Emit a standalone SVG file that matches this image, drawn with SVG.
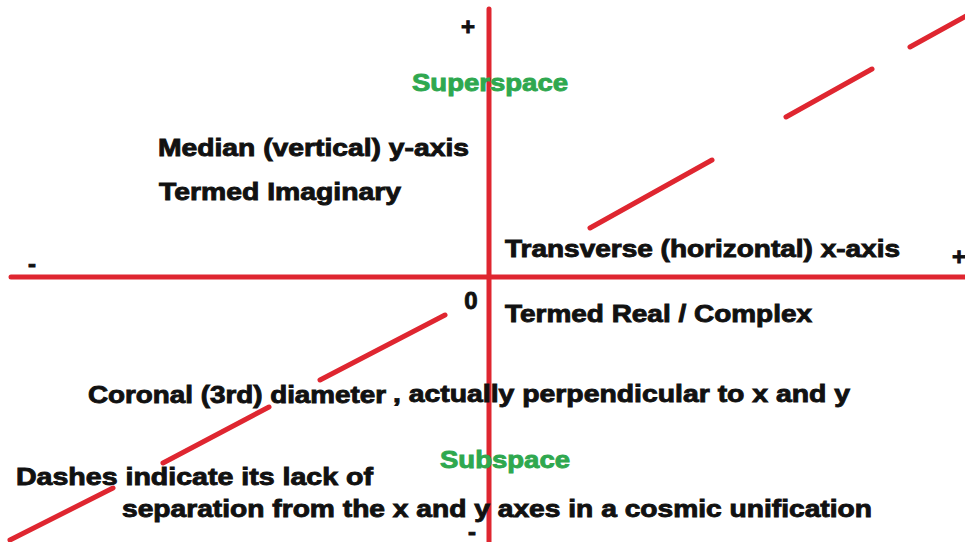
<svg xmlns="http://www.w3.org/2000/svg" width="965" height="542" viewBox="0 0 965 542">
<style>
.t{font-family:"Liberation Sans",Arial,sans-serif;font-weight:bold;font-size:24px;fill:#111;stroke:#111;stroke-width:0.9}
.g{fill:#2fa84f;stroke:#2fa84f}
.ax{stroke:#df2630;stroke-width:5;stroke-linecap:round;fill:none}
.ds{stroke:#df2630;stroke-width:5;stroke-linecap:round;fill:none}
</style>
<rect width="965" height="542" fill="#ffffff"/>
<g id="connectors">
<line class="ax" x1="489" y1="9" x2="489" y2="545"/>
<line class="ax" x1="11" y1="277" x2="968" y2="277"/>
<line class="ds" x1="590" y1="228" x2="712" y2="160"/>
<line class="ds" x1="786" y1="117" x2="872" y2="69"/>
<line class="ds" x1="910" y1="47" x2="968" y2="15"/>
<line class="ds" x1="320" y1="380" x2="445" y2="315"/>
<line class="ds" x1="163" y1="463" x2="269" y2="407"/>
<line class="ds" x1="10" y1="540" x2="113" y2="488"/>
</g>
<g id="plus-top"><text class="t" x="468" y="35" font-size="22" text-anchor="middle">+</text></g>
<g id="superspace"><text class="t g" x="412" y="91" textLength="156" lengthAdjust="spacingAndGlyphs">Superspace</text></g>
<g id="median"><text class="t" x="158" y="156" textLength="311" lengthAdjust="spacingAndGlyphs">Median (vertical) y-axis</text></g>
<g id="imaginary"><text class="t" x="159" y="200" textLength="242" lengthAdjust="spacingAndGlyphs">Termed Imaginary</text></g>
<g id="minus-left"><text class="t" x="28" y="272" font-size="22">-</text></g>
<g id="transverse"><text class="t" x="505" y="257" textLength="395" lengthAdjust="spacingAndGlyphs">Transverse (horizontal) x-axis</text></g>
<g id="plus-right"><text class="t" x="952" y="265" font-size="22">+</text></g>
<g id="zero"><text class="t" x="471" y="309" font-size="22" text-anchor="middle">0</text></g>
<g id="real"><text class="t" x="505" y="322" textLength="307" lengthAdjust="spacingAndGlyphs">Termed Real / Complex</text></g>
<g id="coronal"><text class="t" x="88" y="403" textLength="298" lengthAdjust="spacingAndGlyphs">Coronal (3rd) diameter</text>
<text class="t" x="393" y="402" textLength="457" lengthAdjust="spacingAndGlyphs">, actually perpendicular to x and y</text></g>
<g id="subspace"><text class="t g" x="440" y="468" textLength="130" lengthAdjust="spacingAndGlyphs">Subspace</text></g>
<g id="dashes"><text class="t" x="16" y="485" textLength="357" lengthAdjust="spacingAndGlyphs">Dashes indicate its lack of</text>
<text class="t" x="122" y="517" textLength="750" lengthAdjust="spacingAndGlyphs">separation from the x and y axes in a cosmic unification</text></g>
<g id="minus-bottom"><text class="t" x="468" y="540" font-size="16">-</text></g>
</svg>
